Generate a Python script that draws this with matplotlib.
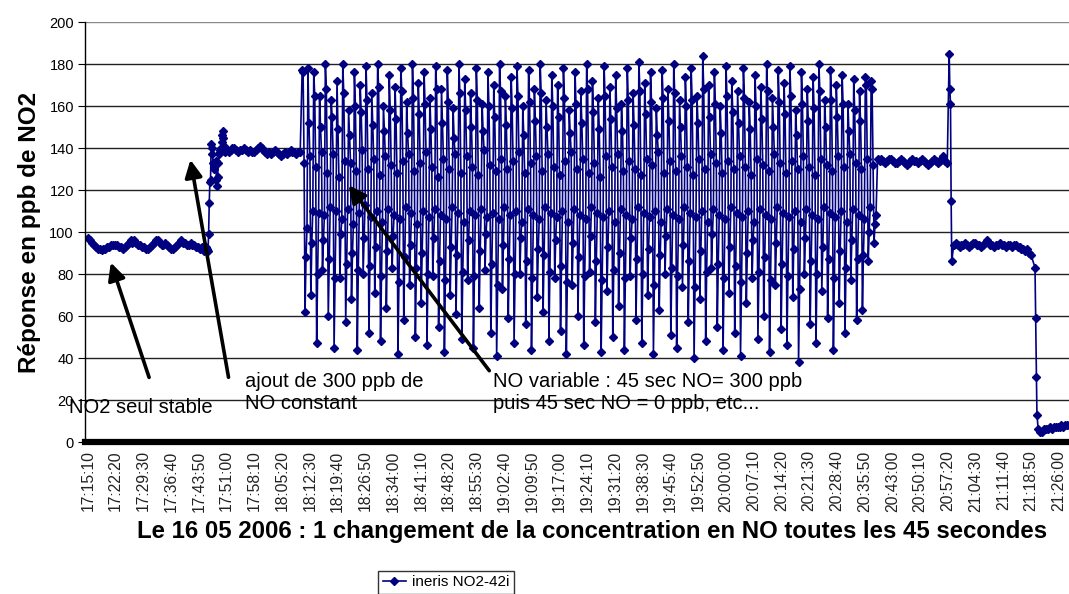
import matplotlib.pyplot as plt
import numpy as np

plt.rcParams['font.family'] = ['Liberation Sans', 'DejaVu Sans']

# Etiquettes de l'axe du temps (une toutes les 430 s)
heures = ['17:15:10', '17:22:20', '17:29:30', '17:36:40', '17:43:50', '17:51:00',
          '17:58:10', '18:05:20', '18:12:30', '18:19:40', '18:26:50', '18:34:00',
          '18:41:10', '18:48:20', '18:55:30', '19:02:40', '19:09:50', '19:17:00',
          '19:24:10', '19:31:20', '19:38:30', '19:45:40', '19:52:50', '20:00:00',
          '20:07:10', '20:14:20', '20:21:30', '20:28:40', '20:35:50', '20:43:00',
          '20:50:10', '20:57:20', '21:04:30', '21:11:40', '21:18:50', '21:26:00']
pas_etiquette = 430  # secondes

# NO2 seul stable (debut t=0 s, pas 30 s)
no2_seul = [97, 96, 95, 94, 93, 92, 92, 91.5, 92, 92, 93, 93, 94, 94, 94, 94, 93, 93,
            92, 93, 94, 95, 96, 95, 96, 95, 94, 94, 93, 93, 92, 92, 93, 94, 95, 96,
            96, 95, 94, 94, 95, 94, 93, 92, 92, 93, 94, 95, 96, 95, 95, 94, 94, 95,
            94, 94, 93, 93, 92, 93, 91, 93]
# ajout NO constant : transition (debut 1850 s, pas 10 s)
montee = [92, 91, 99, 114, 124, 125, 142, 140, 137, 133, 131, 130, 132, 134, 125,
          122, 126, 133, 137, 139, 138, 140, 143, 146, 148, 145, 141, 139, 138, 139]
# palier NO constant (debut 2150 s, pas 30 s)
no_constant = [139, 138, 139, 140, 140, 139, 138, 139, 139, 140, 139, 138, 139, 138,
               138, 139, 140, 141, 140, 139, 138, 137, 138, 137, 138, 139, 138, 137,
               136, 137, 138, 137, 138, 139, 138, 138, 137, 138, 138]
# NO variable (debut 3320 s, pas 15 s) : un cycle de 90 s par ligne
no_variable = [
    [177, 176, 133, 62, 88, 102], [178, 152, 136, 70, 95, 110], [176, 165, 131, 47, 80, 109],
    [165, 150, 138, 82, 96, 108], [180, 168, 128, 60, 87, 112], [163, 155, 137, 45, 78, 110],
    [172, 149, 126, 78, 99, 106], [180, 166, 134, 57, 85, 111], [158, 146, 133, 68, 90, 104],
    [176, 160, 129, 44, 82, 109], [170, 157, 139, 80, 97, 113], [179, 163, 130, 52, 84, 107],
    [166, 151, 135, 71, 93, 110], [180, 169, 127, 48, 79, 105], [160, 148, 136, 64, 91, 111],
    [175, 158, 132, 83, 98, 108], [169, 154, 128, 42, 76, 106], [178, 167, 134, 58, 88, 112],
    [162, 147, 137, 75, 94, 109], [180, 164, 129, 50, 83, 104], [171, 156, 133, 66, 90, 110],
    [176, 161, 138, 46, 80, 107], [164, 149, 131, 79, 97, 111], [179, 168, 126, 55, 86, 108],
    [168, 152, 135, 43, 77, 106], [177, 162, 130, 70, 93, 112], [159, 145, 137, 61, 89, 109],
    [180, 166, 128, 49, 81, 105], [173, 158, 136, 77, 96, 110], [166, 150, 131, 45, 79, 108],
    [178, 163, 127, 64, 91, 111], [161, 148, 139, 82, 99, 107], [176, 160, 132, 52, 85, 109],
    [170, 155, 129, 41, 75, 106], [180, 167, 135, 73, 94, 112], [165, 151, 130, 59, 87, 108],
    [174, 159, 134, 47, 80, 110], [179, 165, 138, 80, 97, 105], [160, 146, 128, 56, 86, 111],
    [177, 162, 133, 44, 78, 108], [168, 153, 136, 69, 92, 106], [180, 166, 129, 62, 89, 112],
    [163, 150, 137, 48, 81, 109], [175, 160, 131, 78, 96, 107], [170, 155, 127, 53, 84, 110],
    [178, 164, 134, 42, 76, 105], [158, 147, 138, 75, 95, 111], [176, 161, 130, 60, 88, 108],
    [167, 152, 135, 46, 79, 106], [180, 168, 128, 81, 98, 112], [172, 157, 133, 57, 86, 109],
    [164, 149, 126, 43, 77, 107], [179, 165, 136, 72, 93, 110], [169, 154, 131, 50, 82, 105],
    [175, 159, 137, 65, 90, 111], [161, 148, 129, 44, 78, 108], [178, 163, 134, 79, 97, 106],
    [166, 151, 130, 58, 87, 112], [181, 167, 127, 47, 80, 109], [171, 156, 135, 70, 92, 107],
    [176, 162, 132, 42, 75, 110], [159, 146, 138, 63, 89, 105], [177, 164, 128, 80, 98, 111],
    [168, 153, 134, 51, 83, 108], [180, 166, 129, 45, 79, 106], [163, 150, 136, 74, 94, 112],
    [174, 160, 131, 57, 86, 109], [178, 163, 127, 40, 74, 107], [165, 152, 135, 68, 91, 110],
    [184, 168, 130, 48, 81, 105], [170, 155, 137, 83, 99, 111], [176, 161, 133, 55, 85, 108],
    [160, 147, 128, 44, 78, 106], [179, 165, 134, 71, 93, 112], [172, 157, 130, 52, 84, 109],
    [167, 152, 136, 41, 76, 107], [178, 164, 131, 66, 90, 110], [162, 149, 127, 78, 96, 105],
    [175, 160, 135, 49, 81, 111], [169, 154, 132, 60, 88, 108], [180, 167, 129, 43, 77, 106],
    [164, 150, 137, 75, 95, 112], [177, 162, 133, 54, 85, 109], [171, 156, 128, 46, 79, 107],
    [179, 165, 134, 69, 92, 110], [158, 146, 130, 38, 73, 105], [176, 161, 136, 80, 97, 111],
    [168, 153, 131, 56, 86, 108], [174, 159, 127, 47, 80, 106], [180, 167, 135, 72, 93, 112],
    [163, 150, 132, 59, 87, 109], [177, 163, 129, 44, 78, 107], [170, 155, 136, 66, 91, 110],
    [175, 161, 131, 52, 83, 105], [161, 148, 137, 77, 96, 111], [173, 158, 133, 58, 87, 108],
    [167, 153, 130, 63, 89, 106], [174, 170, 135, 86, 100, 112], [172, 168, 132, 95, 104, 108]]
# NO2 seul apres le cycle (debut 12240 s, pas 30 s)
palier_134 = [135, 134, 135, 134, 133, 134, 135, 135, 134, 133, 133, 134, 135, 134,
              133, 132, 133, 134, 135, 134, 134, 133, 134, 135, 134, 133, 132, 133,
              134, 135, 134, 133, 134, 135, 136, 134, 133]
pic = [185, 168, 161, 115, 86]  # debut 13350 s, pas 10 s
palier_94 = [94, 95, 94, 93, 94, 94, 95, 94, 93, 94, 95, 95, 94, 94, 93, 94, 95, 96,
             95, 94, 94, 93, 94, 94, 95, 94, 94, 93, 94, 94, 93, 94, 94, 93, 93, 92,
             92, 91, 92, 90, 89]  # debut 13420 s, pas 30 s
chute = [83, 59, 31, 13]  # debut 14680 s, pas 10 s
zero = [6, 5, 5, 6, 6, 6, 7, 6, 7, 7, 7, 7, 8, 7, 8, 8, 8]  # debut 14730 s, pas 30 s

segments = [(0, 30, no2_seul), (1850, 10, montee), (2150, 30, no_constant),
            (3320, 15, [v for cycle in no_variable for v in cycle]),
            (12240, 30, palier_134), (13350, 10, pic), (13420, 30, palier_94),
            (14680, 10, chute), (14730, 30, zero)]

t = np.concatenate([debut + pas * np.arange(len(vals)) for debut, pas, vals in segments])
y = np.concatenate([vals for _, _, vals in segments])

fig = plt.figure(figsize=(10.69, 5.94), dpi=100)
ax = fig.add_axes([85 / 1069, 1 - 442 / 594, 1 - 85 / 1069, 420 / 594])

ax.plot(t, y, color='#000080', linewidth=1.2, marker='D', markersize=4.3,
        label='ineris NO2-42i')

ax.set_xlim(-46, 15207)
ax.set_ylim(0, 200)
ax.set_yticks(range(0, 201, 20))
ax.set_xticks([i * pas_etiquette for i in range(len(heures))])
ax.set_xticklabels(heures, rotation=90, fontsize=11.3, color='#222222')
ax.tick_params(axis='y', labelsize=10.5, length=5, pad=3)
ax.tick_params(axis='x', length=0, pad=6)
ax.yaxis.grid(True, color='#222222', linewidth=1)
ax.get_ygridlines()[-1].set_color('#888888')
ax.set_axisbelow(True)
for s in ['top', 'right']:
    ax.spines[s].set_visible(False)
ax.spines['bottom'].set_linewidth(4.5)
ax.spines['left'].set_linewidth(1)

ax.set_ylabel('Réponse en ppb de NO2', fontsize=17.5, fontweight='bold', labelpad=6)
ax.set_xlabel('Le 16 05 2006 : 1 changement de la concentration en NO toutes les 45 secondes',
              fontsize=17.3, fontweight='bold')
ax.xaxis.set_label_coords(0.515, -0.185)

# Annotations
fleche = dict(arrowstyle='-|>', color='black', linewidth=2.6, mutation_scale=26)
ax.annotate('', xy=(341, 86.7), xytext=(961, 29.5), arrowprops=fleche)
ax.annotate('', xy=(1581, 135.7), xytext=(2186, 29.5), arrowprops=fleche)
ax.annotate('', xy=(4015, 123.3), xytext=(6247, 32.9), arrowprops=fleche)
ax.text(-300, 16.5, 'NO2 seul stable', fontsize=14.5, va='center', ha='left', clip_on=False)
ax.text(2430, 23.5, 'ajout de 300 ppb de\nNO constant', fontsize=14.5, va='center',
        ha='left', linespacing=1.2)
ax.text(6280, 23.5, 'NO variable : 45 sec NO= 300 ppb\npuis 45 sec NO = 0 ppb, etc...',
        fontsize=14.5, va='center', ha='left', linespacing=1.2)

leg = fig.legend(loc='lower left', bbox_to_anchor=(378 / 1069, 0.0), borderaxespad=0,
                 fontsize=11, frameon=True, fancybox=False, edgecolor='black',
                 handlelength=1.5, handletextpad=0.4, borderpad=0.3)
leg.get_frame().set_linewidth(1)

fig.savefig('out.png', dpi=100)
